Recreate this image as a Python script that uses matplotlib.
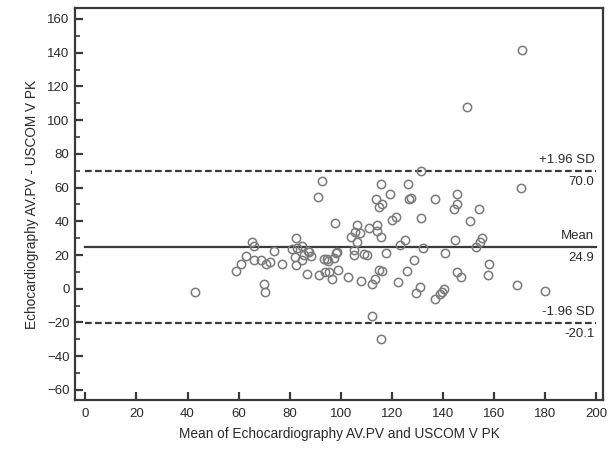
import matplotlib
matplotlib.use("Agg")
import matplotlib.pyplot as plt
from matplotlib.ticker import MultipleLocator

plt.rcParams['font.family'] = ['Liberation Sans', 'DejaVu Sans']

# Bland-Altman data: mean of methods (x) and difference (y)
mean_vals = [171.1, 149.4, 131.5, 170.5, 92.5, 91.0, 115.6, 126.3, 119.4, 145.5,
             113.7, 116.3, 114.8, 126.9, 127.5, 137.0, 145.5, 144.3, 154.0, 150.6,
             120.0, 121.5, 131.5, 97.8, 106.3, 114.3, 111.2, 107.5, 105.7, 103.9,
             114.2, 115.7, 106.3, 82.3, 65.3, 66.0, 125.3, 144.9, 155.5, 154.4,
             152.8, 123.3, 132.4, 85.0, 83.0, 80.8, 87.3, 73.8, 98.6, 105.2,
             109.3, 110.1, 105.1, 117.8, 140.8, 62.9, 60.9, 58.8, 66.0, 68.8,
             70.8, 72.4, 76.9, 69.9, 70.5, 43.1, 82.0, 82.3, 85.0, 85.8,
             88.5, 86.9, 91.4, 93.5, 94.6, 97.2, 93.7, 95.4, 98.9, 96.4,
             102.8, 107.8, 112.1, 113.3, 115.0, 116.1, 112.4, 115.6, 122.4, 125.9,
             128.8, 130.9, 129.5, 137.0, 138.9, 139.7, 140.3, 145.5, 147.0, 157.9,
             157.5, 169.2, 180.0, 95.0, 87.5, 98.2]
diff_vals = [141.6, 107.8, 70.1, 60.0, 63.9, 54.6, 62.3, 62.3, 56.3, 56.3,
             53.0, 50.3, 48.7, 53.0, 54.0, 53.0, 50.3, 47.3, 47.0, 40.2,
             40.8, 42.4, 42.0, 39.0, 38.0, 38.0, 35.9, 33.3, 33.5, 30.7,
             34.3, 30.7, 28.0, 30.0, 28.0, 25.5, 29.1, 29.1, 30.0, 27.8,
             25.0, 25.8, 24.0, 25.2, 24.2, 23.6, 22.6, 22.4, 21.8, 23.0,
             20.6, 20.0, 19.9, 21.0, 21.0, 19.2, 14.9, 10.8, 16.8, 17.2,
             14.9, 15.9, 14.9, 3.0, -2.2, -2.2, 18.9, 13.8, 17.1, 20.0,
             19.6, 8.7, 8.0, 17.9, 17.9, 18.1, 10.2, 10.2, 11.0, 5.6,
             6.8, 4.8, 2.8, 6.0, 11.2, 10.8, -16.1, -30.0, 4.0, 10.8,
             16.8, 1.0, -2.4, -6.3, -3.2, -2.0, -0.2, 9.9, 6.7, 14.8,
             7.9, 2.0, -1.2, 16.3, 21.5, 21.0]

mean_diff = 24.9
upper_loa = 70.0
lower_loa = -20.1

x_ticks = list(range(0, 201, 20))
y_ticks = list(range(-60, 161, 20))

fig = plt.figure(figsize=(6.09, 4.53), dpi=100)
ax = fig.add_axes([75 / 609, 0.117, 528 / 609, 0.8653])

dark = '#3a3a3a'
txtc = '#2a2a2a'
ax.plot(mean_vals, diff_vals, linestyle='none', marker='o', markersize=6,
        markerfacecolor='none', markeredgecolor='#7a7a7a', markeredgewidth=1.1, zorder=3)

ax.plot([0, 200], [mean_diff, mean_diff], color=dark, lw=1.6, zorder=2)
for v in (upper_loa, lower_loa):
    ax.plot([0, 200], [v, v], color=dark, lw=1.6, dashes=(3.0, 1.5), zorder=2)

tx = 199.3
fs = 9.5
ax.text(tx, upper_loa + 3, '+1.96 SD', ha='right', va='bottom', fontsize=fs, color=txtc)
ax.text(tx, upper_loa - 3, '%.1f' % upper_loa, ha='right', va='top', fontsize=fs, color=txtc)
ax.text(tx, mean_diff + 3, 'Mean', ha='right', va='bottom', fontsize=fs, color=txtc)
ax.text(tx, mean_diff - 3, '%.1f' % mean_diff, ha='right', va='top', fontsize=fs, color=txtc)
ax.text(tx, lower_loa + 3, '-1.96 SD', ha='right', va='bottom', fontsize=fs, color=txtc)
ax.text(tx, lower_loa - 3, '%.1f' % lower_loa, ha='right', va='top', fontsize=fs, color=txtc)

ax.set_xlim(-4.07, 202.7)
ax.set_ylim(-66, 166.5)
ax.set_xticks(x_ticks)
ax.set_yticks(y_ticks)
ax.yaxis.set_minor_locator(MultipleLocator(10))
ax.tick_params(axis='both', which='major', direction='in', length=6, width=1.6,
               color=dark, labelsize=9.5, labelcolor=txtc)
ax.tick_params(axis='y', which='minor', direction='in', length=3.5, width=1.2, color=dark)
ax.tick_params(axis='x', pad=6)
ax.tick_params(axis='y', pad=4)
for s in ax.spines.values():
    s.set_linewidth(1.6)
    s.set_color(dark)

ax.set_xlabel('Mean of Echocardiography AV.PV and USCOM V PK', fontsize=9.8, color=txtc, labelpad=5)
ax.set_ylabel('Echocardiography AV.PV - USCOM V PK', fontsize=9.8, color=txtc, labelpad=6)

fig.savefig('out.png', dpi=100)
